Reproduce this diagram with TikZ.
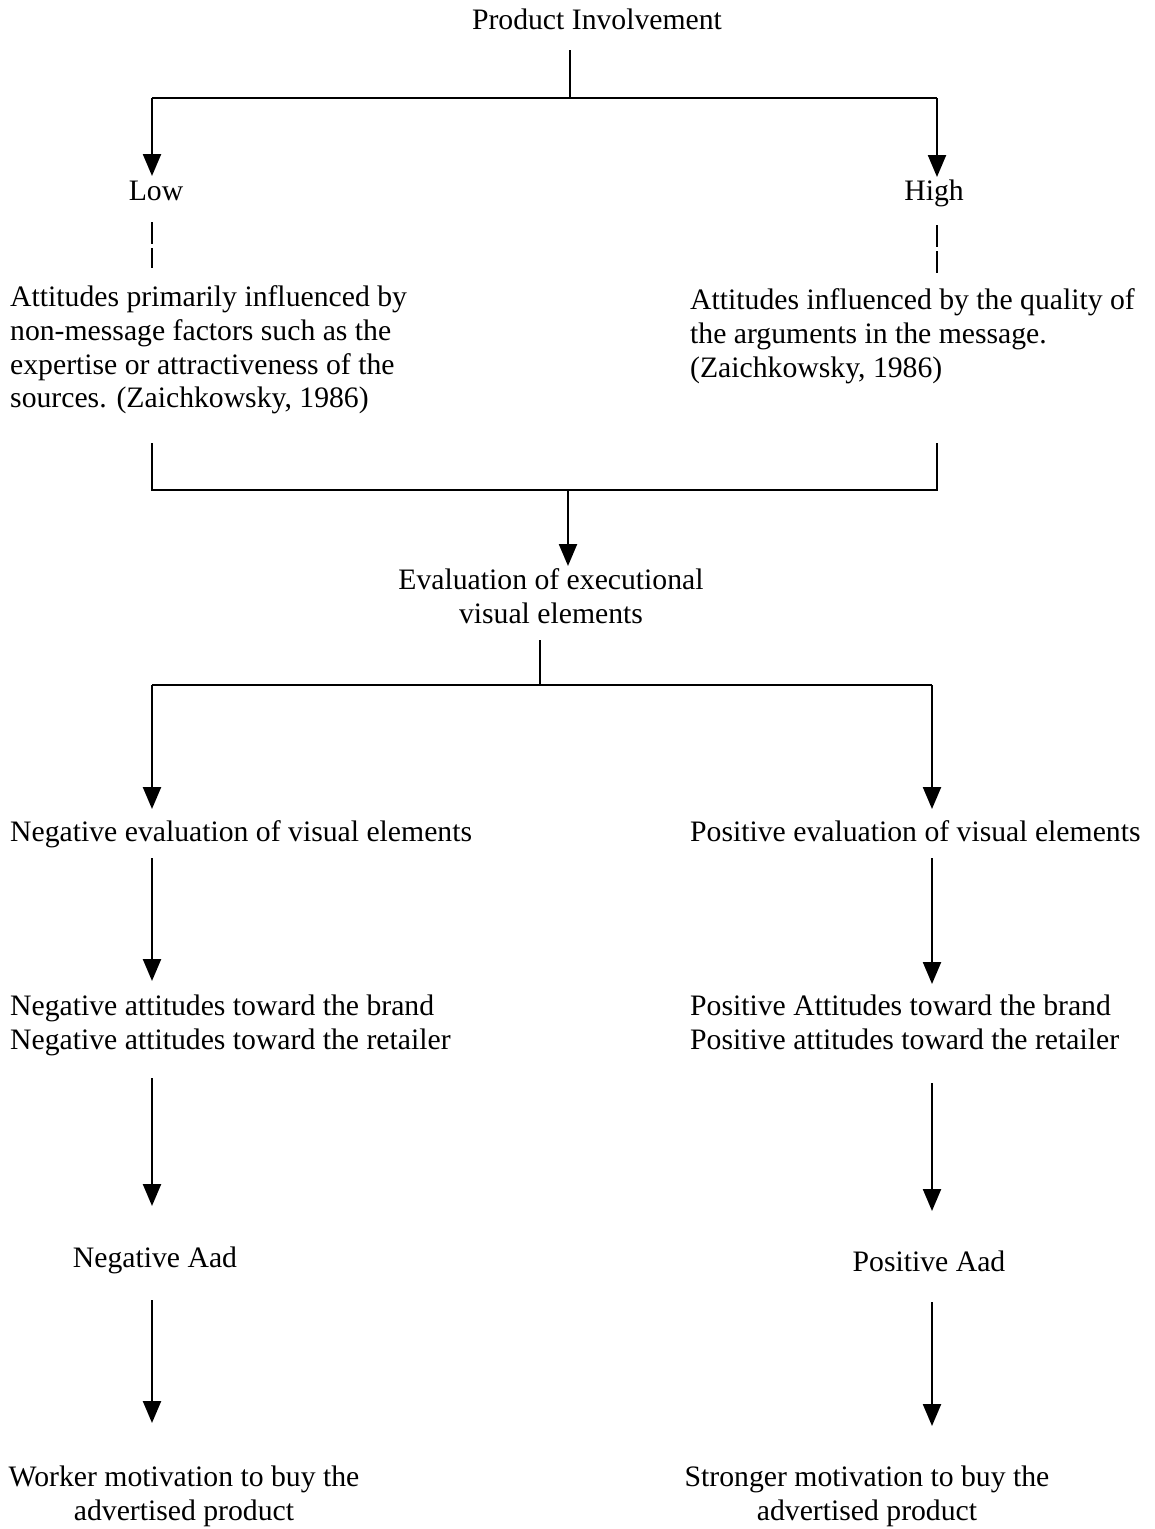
\documentclass[tikz,border=0pt]{standalone}
\usepackage{fontspec}
\setmainfont{Liberation Serif}
\usetikzlibrary{arrows.meta}
\begin{document}
\begin{tikzpicture}[x=1pt,y=-1pt,
  txt/.style={inner sep=0pt,font=\fontsize{29.7}{33.7}\selectfont},
  ln/.style={line width=2.3pt},
  arr/.style={line width=2.3pt,-{Triangle[width=18pt,length=22pt]}},
  dsh/.style={line width=2.3pt,dash pattern=on 22pt off 4pt}]
\useasboundingbox (0,0) rectangle (1155,1529);

% texts
\node[txt,anchor=base] (pi) at (597,29) {Product Involvement};
\node[txt,anchor=base] (low) at (156,200) {Low};
\node[txt,anchor=base] (high) at (934,200) {High};
\node[txt,anchor=north west,align=left] (lowtxt) at (10,285.7)
  {Attitudes primarily influenced by\\non-message factors such as the\\expertise or attractiveness of the\\sources. (Zaichkowsky, 1986)};
\node[txt,anchor=north west,align=left] (hightxt) at (690,288.7)
  {Attitudes influenced by the quality of\\the arguments in the message.\\(Zaichkowsky, 1986)};
\node[txt,anchor=north,align=center] (eval) at (551,568.7)
  {Evaluation of executional\\visual elements};
\node[txt,anchor=base west] (negeval) at (10,841) {Negative evaluation of visual elements};
\node[txt,anchor=base west] (poseval) at (690,841) {Positive evaluation of visual elements};
\node[txt,anchor=north west,align=left] (negatt) at (10,994.7)
  {Negative attitudes toward the brand\\Negative attitudes toward the retailer};
\node[txt,anchor=north west,align=left] (posatt) at (690,994.7)
  {Positive Attitudes toward the brand\\Positive attitudes toward the retailer};
\node[txt,anchor=base] (negaad) at (155,1267) {Negative Aad};
\node[txt,anchor=base] (posaad) at (929,1271) {Positive Aad};
\node[txt,anchor=north,align=center] (negmot) at (184,1465.7)
  {Worker motivation to buy the\\advertised product};
\node[txt,anchor=north,align=center] (posmot) at (867,1465.7)
  {Stronger motivation to buy the\\advertised product};

% junction coordinates
\coordinate (t0) at (570,50);
\coordinate (t1) at (570,98);
\coordinate (tl) at (152,98);
\coordinate (tr) at (937,98);
\coordinate (al) at (152,176);
\coordinate (ar) at (937,177);
\coordinate (dl0) at (152,222);
\coordinate (dl1) at (152,268);
\coordinate (dr0) at (937,225);
\coordinate (dr1) at (937,273);
\coordinate (bl0) at (152,443);
\coordinate (br0) at (937,443);
\coordinate (bl1) at (152,490);
\coordinate (br1) at (937,490);
\coordinate (bm) at (568,490);
\coordinate (be) at (568,566);
\coordinate (e0) at (540,640);
\coordinate (e1) at (540,685);
\coordinate (el) at (152,685);
\coordinate (er) at (932,685);
\coordinate (el1) at (152,809);
\coordinate (er1) at (932,809);
\coordinate (n0) at (152,858);
\coordinate (n1) at (152,981);
\coordinate (p0) at (932,858);
\coordinate (p1) at (932,984);
\coordinate (n2) at (152,1078);
\coordinate (n3) at (152,1206);
\coordinate (p2) at (932,1083);
\coordinate (p3) at (932,1211);
\coordinate (n4) at (152,1300);
\coordinate (n5) at (152,1423);
\coordinate (p4) at (932,1302);
\coordinate (p5) at (932,1426);

% connectors
\draw[ln] (t0) -- (t1);
\draw[ln] (tl) -- (tr);
\draw[arr] (tl) -- (al);
\draw[arr] (tr) -- (ar);
\draw[dsh] (dl0) -- (dl1);
\draw[dsh] (dr0) -- (dr1);
\draw[ln] (bl0) -- (bl1) -- (br1) -- (br0);
\draw[arr] (bm) -- (be);
\draw[ln] (e0) -- (e1);
\draw[ln] (el) -- (er);
\draw[arr] (el) -- (el1);
\draw[arr] (er) -- (er1);
\draw[arr] (n0) -- (n1);
\draw[arr] (p0) -- (p1);
\draw[arr] (n2) -- (n3);
\draw[arr] (p2) -- (p3);
\draw[arr] (n4) -- (n5);
\draw[arr] (p4) -- (p5);
\end{tikzpicture}
\end{document}
